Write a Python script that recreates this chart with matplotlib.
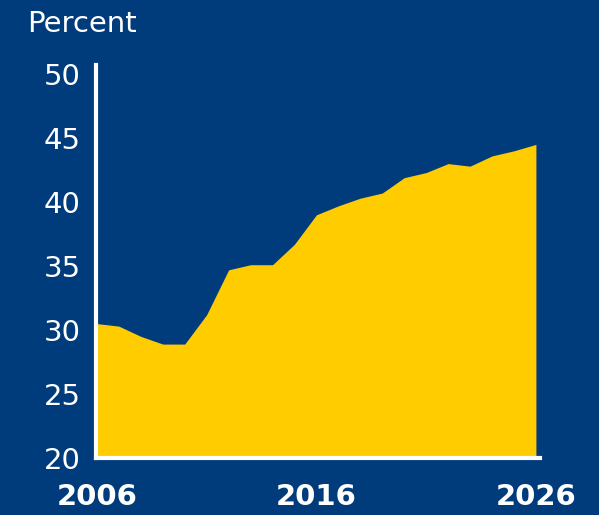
import matplotlib.pyplot as plt

# Data
years = list(range(2006, 2027))
share = [30.5, 30.3, 29.5, 28.9, 28.9, 31.2, 34.7, 35.1, 35.1, 36.7, 39.0,
         39.7, 40.3, 40.7, 41.9, 42.3, 43.0, 42.8, 43.6, 44.0, 44.5]
xticks = [2006, 2016, 2026]
yticks = [20, 25, 30, 35, 40, 45, 50]

bg = '#003B7C'
yellow = '#FFCC00'

plt.rcParams['font.family'] = ['DejaVu Sans']

fig = plt.figure(figsize=(5.99, 5.15), dpi=100, facecolor=bg)
ax = fig.add_axes([0.160, 0.1107, 0.742, 0.763], facecolor=bg)

ax.fill_between(years, 20, share, color=yellow, linewidth=0)

ax.set_xlim(2005.95, 2026.2)
ax.set_ylim(20, 50.7)

for side in ['top', 'right']:
    ax.spines[side].set_visible(False)
for side in ['left', 'bottom']:
    ax.spines[side].set_color('white')
    ax.spines[side].set_linewidth(3)
    ax.spines[side].set_zorder(5)

ax.set_yticks(yticks)
ax.set_xticks(xticks)
ax.tick_params(axis='y', length=0, pad=11, labelsize=21, labelcolor='white')
ax.tick_params(axis='x', length=0, pad=18, labelsize=21, labelcolor='white')
for lab in ax.get_xticklabels():
    lab.set_fontweight('bold')

fig.text(0.045, 0.953, 'Percent', color='white', fontsize=21, va='center', ha='left')

plt.savefig('out.png', dpi=100, facecolor=bg)
